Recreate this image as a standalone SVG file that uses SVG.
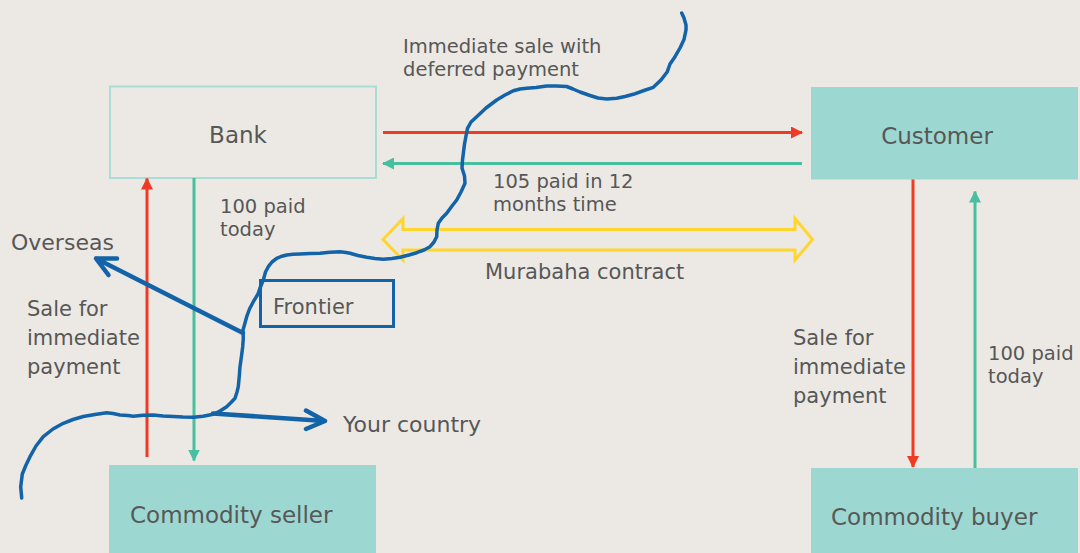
<svg xmlns="http://www.w3.org/2000/svg" width="1080" height="553" viewBox="0 0 1080 553">
<defs>
<style>
.bg{fill:#ece9e4}
.t{font-family:"DejaVu Sans","Liberation Sans",sans-serif;fill:#575757}
.box{fill:#9dd7d1}
.lbl{font-size:23px}
.s20{font-size:19.5px}
.s21{font-size:21px}
.s22{font-size:22px}
.red{stroke:#ef3b24;stroke-width:3;fill:none}
.grn{stroke:#48bf9e;stroke-width:3;fill:none}
.blue{stroke:#1363a8;fill:none;stroke-linecap:round;stroke-linejoin:round}
</style>
<marker id="ar" viewBox="0 0 12 12" refX="11" refY="6" markerWidth="12" markerHeight="12" markerUnits="userSpaceOnUse" orient="auto"><path d="M0,0 L12,6 L0,12 Z" fill="#ef3b24"/></marker>
<marker id="ag" viewBox="0 0 12 12" refX="11" refY="6" markerWidth="12" markerHeight="12" markerUnits="userSpaceOnUse" orient="auto"><path d="M0,0 L12,6 L0,12 Z" fill="#48bf9e"/></marker>
</defs>
<rect class="bg" x="0" y="0" width="1080" height="553"/>

<g id="bank">
<rect x="110" y="86.5" width="266" height="91.5" fill="none" stroke="#a9ddd7" stroke-width="2"/>
<text class="t lbl" x="238" y="143" text-anchor="middle">Bank</text>
</g>
<g id="customer">
<rect class="box" x="811" y="87" width="267" height="92.5"/>
<text class="t lbl" x="937" y="144" text-anchor="middle">Customer</text>
</g>
<g id="commodity-seller">
<rect class="box" x="109" y="465" width="267" height="88"/>
<text class="t lbl" x="130" y="523">Commodity seller</text>
</g>
<g id="commodity-buyer">
<rect class="box" x="811" y="468" width="267" height="85"/>
<text class="t lbl" x="831" y="525">Commodity buyer</text>
</g>

<g id="connectors">
<line class="red" x1="383" y1="132.5" x2="802" y2="132.5" marker-end="url(#ar)"/>
<line class="grn" x1="802" y1="163.5" x2="383" y2="163.5" marker-end="url(#ag)"/>
<line class="red" x1="147" y1="457" x2="147" y2="178.5" marker-end="url(#ar)"/>
<line class="grn" x1="194" y1="178" x2="194" y2="460.5" marker-end="url(#ag)"/>
<line class="red" x1="913" y1="179.5" x2="913" y2="467" marker-end="url(#ar)"/>
<line class="grn" x1="975" y1="468" x2="975" y2="191.5" marker-end="url(#ag)"/>
<path id="murabaha" d="M383,239.5 L403,218.5 L403,229.5 L795,229.5 L795,218.5 L812.5,239.5 L795,260 L795,250 L403,250 L403,260 Z" fill="none" stroke="#ffd52e" stroke-width="3" stroke-linejoin="miter"/>
</g>

<g id="labels">
<text class="t s20" x="403" y="53">Immediate sale with<tspan x="403" y="76">deferred payment</tspan></text>
<text class="t s20" x="493" y="188">105 paid in 12<tspan x="493" y="211">months time</tspan></text>
<text class="t s20" x="220" y="213">100 paid<tspan x="220" y="236">today</tspan></text>
<text class="t s21" x="485" y="278.5">Murabaha contract</text>
<text class="t s21" x="27" y="316">Sale for<tspan x="27" y="345">immediate</tspan><tspan x="27" y="374">payment</tspan></text>
<text class="t s21" x="793" y="345">Sale for<tspan x="793" y="374">immediate</tspan><tspan x="793" y="403">payment</tspan></text>
<text class="t s20" x="988" y="360">100 paid<tspan x="988" y="383">today</tspan></text>
</g>

<g id="frontier">
<path class="blue" stroke-width="3.5" d="M21.7,498 L20.7,486.7 L22.3,474 L26,465 L30,456.7 L36,446 L43.3,436.7 L53,429 L63.3,423.3 L73,419.5 L83.3,416.5 L95,414.5 L106.7,412.7 L113,413.5 L120,415 L128,415.5 L133.3,416.3 L143,415.3 L153.3,415 L163,416 L173.3,416.5 L183,417 L193.3,417.3 L203,416.3 L213.3,414.3 L220,411 L226.7,406.7 L231,402.5 L235,398.3 L237,392 L238.3,386.7 L239.3,376 L240,366.7 L241.5,356 L242.7,346.7 L243.3,338 L243,330 L245,323 L246.7,316.7 L249.5,309 L253.3,301.7 L258,294 L260,288 L263.3,280 L265.5,272 L268.3,266.7 L272,262 L276.7,258.3 L281,256.5 L286.7,255 L293,254.3 L300,254 L310,253.5 L320,253.3 L330,252.2 L340,251.7 L346,252.5 L350,253.3 L358,255.5 L366.7,257.3 L375,258.5 L383.3,259.3 L392,258.5 L400,257.3 L409,255 L416.7,252.7 L424,250 L430,246.7 L434,242 L436.7,236.7 L437,230 L438.3,223.3 L442,218 L446.7,213.3 L452,206 L456.7,200 L461,192 L465,183.3 L464.5,176 L462,168 L462.5,160 L463.5,152 L464.5,144 L466,136 L467.5,128.3 L471,122 L476.7,116.7 L486,108 L496.7,100 L505,95 L513.3,90.7 L520,89 L526.7,88.3 L536,87.5 L546.7,86 L556,86 L566.7,86.5 L573,89 L580,92 L590,95.5 L598,98 L606.7,99 L616.7,98.3 L625,96.5 L633.3,94.3 L644,90.5 L653.3,87.3 L661,80 L667.3,71.7 L670,64 L675,56.7 L680,48 L684,39.5 L686,30 L686,25 L684,18 L681.7,13"/>
<rect x="260.5" y="280.5" width="133" height="46" fill="none" stroke="#1363a8" stroke-width="3"/>
<text class="t s21" x="273" y="314">Frontier</text>
<path class="blue" stroke-width="4.5" d="M243,333 L96,258.5 M117,258.5 L96,258.5 L108.5,275"/>
<path class="blue" stroke-width="4.5" d="M213,413.5 L325,421 M306,410.5 L325,421 L306,429"/>
<text class="t s22" x="11" y="249.5">Overseas</text>
<text class="t s22" x="343" y="432">Your country</text>
</g>
</svg>
